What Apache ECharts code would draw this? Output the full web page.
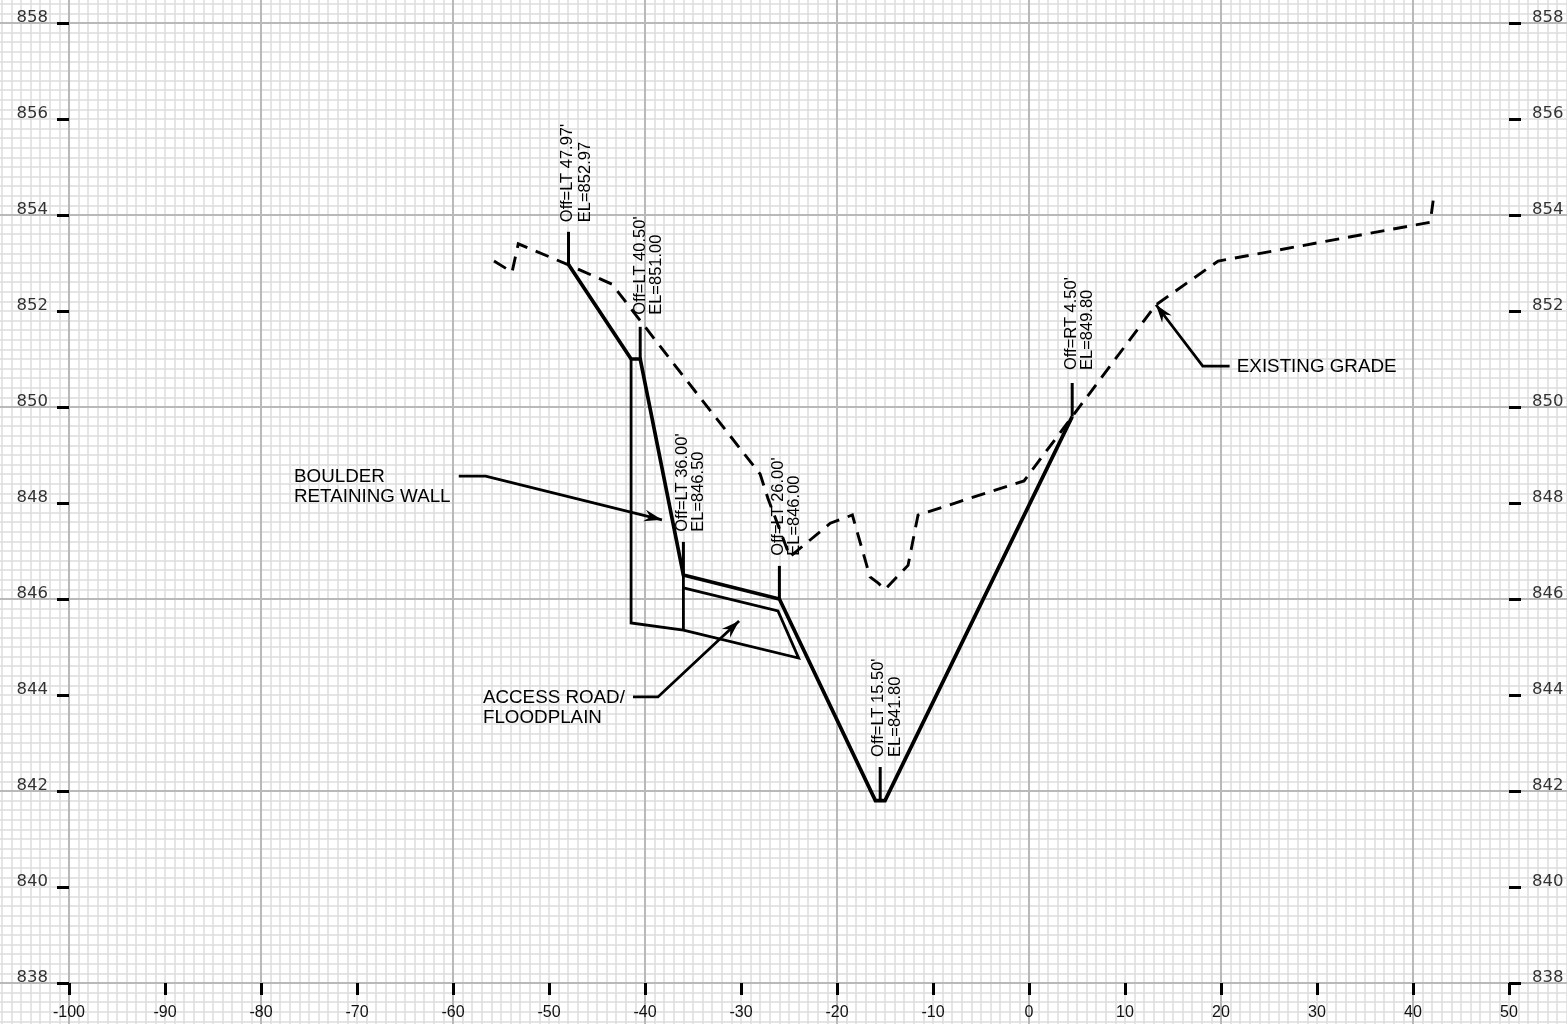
<!DOCTYPE html>
<html><head><meta charset="utf-8">
<style>html,body{margin:0;padding:0;background:#fff}#c{width:1567px;height:1024px}</style>
<script src="https://cdn.jsdelivr.net/npm/echarts@6/dist/echarts.min.js"></script>
</head><body><div id="c"></div>
<script>
const xTicks=[-100,-90,-80,-70,-60,-50,-40,-30,-20,-10,0,10,20,30,40,50];
const yTicks=[838,840,842,844,846,848,850,852,854,856,858];
const xMajor=[-100,-80,-60,-40,-20,0,20,40];
const yMajor=[838,842,846,850,854,858];

const designTop=[[-47.97,852.97],[-41.45,851],[-40.5,851],[-36,846.5],[-26,846],[-16,841.8],[-15,841.8],[4.5,849.8]];
const wallAndRoad=[[-41.45,851],[-41.45,845.5],[-36,845.35],[-24,844.77],[-26.15,845.75],[-36,846.23]];
const wallStem=[[-36,846.5],[-36,845.35]];
const existingGrade=[[-55.73,853.04],[-53.85,852.81],[-53.2,853.4],[-47.97,852.96],[-43.44,852.56],[-36.35,850.73],[-28,848.6],[-27.2,848.1],[-24.9,846.88],[-20.7,847.58],[-18.4,847.75],[-16.56,846.46],[-15.7,846.33],[-15,846.2],[-12.6,846.7],[-11.56,847.75],[-0.52,848.46],[13.23,852.13],[19.7,853.04],[41.8,853.85],[42.1,854.3]];
const stems=[[-47.97,852.97,853.65],[-40.5,851,851.67],[-36,846.5,847.19],[-26,846,846.69],[-15.5,841.8,842.5],[4.5,849.8,850.5]];
const offLabels=["Off=LT 47.97'","Off=LT 40.50'","Off=LT 36.00'","Off=LT 26.00'","Off=LT 15.50'","Off=RT 4.50'"];
const offAnchors=[[-48.07,853.85],[-40.52,851.92],[-36.1,847.4],[-26.15,846.9],[-15.73,842.71],[4.4,850.77]];
const elLabels=["EL=852.97","EL=851.00","EL=846.50","EL=846.00","EL=841.80","EL=849.80"];
const elAnchors=[[-46.2,853.85],[-38.8,851.92],[-34.4,847.4],[-24.4,846.9],[-13.96,842.71],[6.08,850.77]];
const noteRows=["BOULDER","RETAINING WALL","ACCESS ROAD/","FLOODPLAIN","EXISTING GRADE"];
const noteAnchors=[[-76.56,848.54],[-76.56,848.125],[-56.88,843.94],[-56.88,843.52],[21.65,850.83]];
const leaders=[
 [[-59.4,848.56],[-56.6,848.56],[-38.23,847.65]],
 [[-41.25,843.96],[-38.65,843.96],[-30.2,845.54]],
 [[20.9,850.85],[18.1,850.85],[13.23,852.13]]
];

const black='#000';
const txt='#000';
const font='"Liberation Sans"';
const XR={min:-108,max:57}, YR={min:837,max:859};
const hide={axisLine:{show:false,onZero:false},axisTick:{show:false},axisLabel:{show:false}};
const noLine={show:false,onZero:false};
const series=[];
const line=(data,width,dash)=>series.push({type:'line',data,symbol:'none',silent:true,z:5,
  lineStyle:{color:black,width,type:dash||'solid',cap:'butt',join:'miter'}});
line(designTop,3.7);
line(wallAndRoad,2.8);
line(wallStem,2.8);
line(existingGrade,2.9,[14,9]);
stems.forEach(s=>line([[s[0],s[1]],[s[0],s[2]]],3));
leaders.forEach(l=>line(l,2.8));
series.push({type:'custom',silent:true,z:6,coordinateSystem:'cartesian2d',
  data:leaders.map(l=>{const a=l[l.length-2],b=l[l.length-1];return [b[0],b[1],a[0],a[1]];}),
  renderItem(p,api){
    const t=api.coord([api.value(0),api.value(1)]),f=api.coord([api.value(2),api.value(3)]);
    const d=Math.hypot(t[0]-f[0],t[1]-f[1]),ux=(t[0]-f[0])/d,uy=(t[1]-f[1])/d;
    const L=18,H=6,N=12;
    const pts=[t,[t[0]-ux*L-uy*H,t[1]-uy*L+ux*H],[t[0]-ux*N,t[1]-uy*N],[t[0]-ux*L+uy*H,t[1]-uy*L-ux*H]];
    return {type:'polygon',shape:{points:pts},style:{fill:black}};
  }});
const textSeries=(anchors,rows,size,rot)=>series.push({type:'scatter',symbolSize:0,silent:true,z:7,
  itemStyle:{opacity:1},
  data:anchors.map((a,i)=>({value:a,name:rows[i]})),
  label:{show:true,position:[0,0],rotate:rot,align:'left',verticalAlign:'middle',
    formatter:p=>p.name,fontFamily:font,fontSize:size,color:txt}});
textSeries(offAnchors,offLabels,16.5,90);
textSeries(elAnchors,elLabels,16.5,90);
textSeries(noteAnchors,noteRows,18.8,0);

const yLab={fontFamily:'"DejaVu Sans"',fontSize:16.5,color:'#333',verticalAlign:'bottom',lineHeight:10};
const option={
  animation:false,backgroundColor:'#fff',
  grid:{left:-7.8,top:-25,width:1584,height:1056,containLabel:false,outerBoundsMode:'none'},
  xAxis:[
   {type:'value',...XR,interval:1,position:'bottom',...hide,splitLine:{show:true,lineStyle:{color:'#dcdcdc',width:1.5}},z:1},
   {type:'value',...XR,position:'bottom',axisLine:noLine,axisLabel:{show:false},
     axisTick:{show:false,customValues:xMajor},splitLine:{show:true,lineStyle:{color:'#b9b9b9',width:2}},z:2},
   {type:'value',...XR,position:'bottom',offset:-48,axisLine:noLine,splitLine:{show:false},
     axisTick:{show:true,customValues:xTicks,length:12,inside:false,lineStyle:{color:black,width:3}},
     axisLabel:{show:true,customValues:xTicks,margin:22,fontFamily:font,fontSize:16,color:'#111'},z:3}
  ],
  yAxis:[
   {type:'value',...YR,interval:0.2,position:'left',...hide,splitLine:{show:true,lineStyle:{color:'#dcdcdc',width:1.5}},z:1},
   {type:'value',...YR,position:'left',axisLine:noLine,axisLabel:{show:false},
     axisTick:{show:false,customValues:yMajor},splitLine:{show:true,lineStyle:{color:'#b9b9b9',width:2}},z:2},
   {type:'value',...YR,position:'left',offset:-76.8,axisLine:noLine,splitLine:{show:false},
     axisTick:{show:true,customValues:yTicks,length:12,lineStyle:{color:black,width:3}},
     axisLabel:{show:true,customValues:yTicks,margin:21,align:'right',...yLab},z:3},
   {type:'value',...YR,position:'right',offset:-67.2,axisLine:noLine,splitLine:{show:false},
     axisTick:{show:true,customValues:yTicks,length:12,lineStyle:{color:black,width:3}},
     axisLabel:{show:true,customValues:yTicks,margin:23,align:'left',...yLab},z:3}
  ],
  series
};
echarts.init(document.getElementById('c'),null,{renderer:'canvas'}).setOption(option);
</script></body></html>
